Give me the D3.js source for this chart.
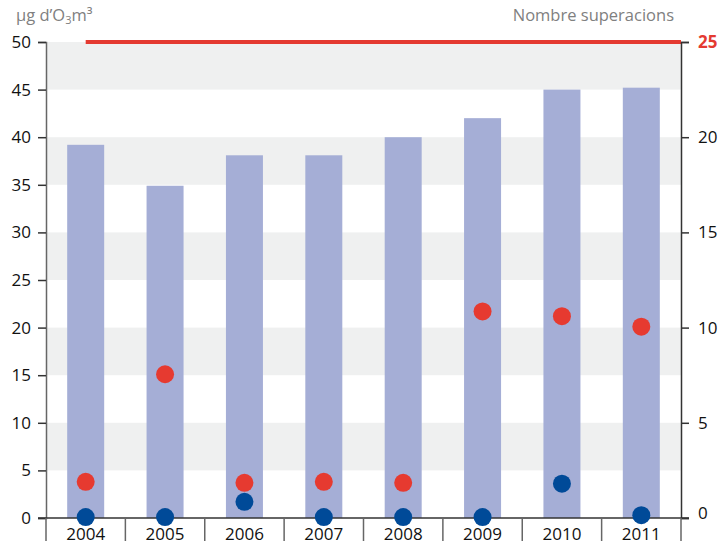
<!DOCTYPE html>
<html>
<head>
<meta charset="utf-8">
<script src="https://cdn.jsdelivr.net/npm/d3@7"></script>
<style>
  body { margin: 0; background: #fff; }
  text { font-family: "Open Sans", sans-serif; }
</style>
</head>
<body>
<div id="chart"></div>
<script>
const years = ['2004', '2005', '2006', '2007', '2008', '2009', '2010', '2011'];
const barValues = [39.2, 34.9, 38.1, 38.1, 40.0, 42.0, 45.0, 45.2];
const redValues = [3.8, 15.1, 3.7, 3.8, 3.7, 21.7, 21.2, 20.1];
const blueValues = [0.1, 0.1, 1.7, 0.1, 0.1, 0.1, 3.6, 0.3];
const leftTicks = [0, 5, 10, 15, 20, 25, 30, 35, 40, 45, 50];
const rightTicks = [0, 5, 10, 15, 20, 25];
const threshold = 25;

const width = 727, height = 544;
const plotLeft = 46, plotRight = 681, plotTop = 42, plotBottom = 518;
const fontSize = 17;

const svg = d3.select('#chart').append('svg')
  .attr('width', width)
  .attr('height', height);

const x = d3.scaleBand().domain(years).range([plotLeft, plotRight]).paddingInner(0).paddingOuter(0);
const y = d3.scaleLinear().domain([0, 50]).range([plotBottom, plotTop]);
const y2 = d3.scaleLinear().domain([0, 25]).range([plotBottom, plotTop]);

// alternating bands
const bands = d3.range(5, 50, 10);
svg.selectAll('.band')
  .data(bands)
  .enter().append('rect')
  .attr('x', plotLeft)
  .attr('width', plotRight - plotLeft)
  .attr('y', d => y(d + 5))
  .attr('height', d => y(d) - y(d + 5))
  .attr('fill', '#eff0f0');

// bars
const barW = 37;
svg.selectAll('.bar')
  .data(barValues)
  .enter().append('rect')
  .attr('x', (d, i) => x(years[i]) + x.bandwidth() / 2 - barW / 2)
  .attr('width', barW)
  .attr('y', d => y(d))
  .attr('height', d => y(0) - y(d))
  .attr('fill', '#a5aed6');

// threshold line
svg.append('line')
  .attr('x1', x(years[0]) + x.bandwidth() / 2)
  .attr('x2', plotRight)
  .attr('y1', y2(threshold))
  .attr('y2', y2(threshold))
  .attr('stroke', '#e43a31')
  .attr('stroke-width', 4);

// left axis
const leftAxis = svg.append('g')
  .attr('transform', `translate(${plotLeft},0)`)
  .call(d3.axisLeft(y).tickValues(leftTicks).tickSize(8).tickPadding(7));
leftAxis.select('.domain').attr('stroke', '#666').attr('stroke-width', 1.5);
leftAxis.selectAll('.tick line').attr('stroke', '#333').attr('stroke-width', 1.5);
leftAxis.selectAll('text').attr('font-size', fontSize).attr('fill', '#111').attr('font-family', '"Open Sans", sans-serif');

// right axis
const rightAxis = svg.append('g')
  .attr('transform', `translate(${plotRight},0)`)
  .call(d3.axisRight(y2).tickValues(rightTicks).tickSize(8).tickPadding(9));
rightAxis.select('.domain').attr('stroke', '#333').attr('stroke-width', 1.5);
rightAxis.selectAll('.tick line').attr('stroke', '#333').attr('stroke-width', 1.5);
rightAxis.selectAll('text').attr('font-size', fontSize).attr('fill', '#111').attr('font-family', '"Open Sans", sans-serif');
rightAxis.selectAll('text').filter(d => d === threshold)
  .attr('fill', '#e43a31').attr('font-weight', 'bold');
rightAxis.selectAll('text').filter(d => d === 0).attr('y', -5);

// bottom axis: separators at category boundaries
svg.append('line')
  .attr('x1', plotLeft - 8).attr('x2', plotRight + 8)
  .attr('y1', plotBottom).attr('y2', plotBottom)
  .attr('stroke', '#333').attr('stroke-width', 1.5);
const bounds = years.map(d => x(d)).concat([plotRight]);
svg.selectAll('.sep')
  .data(bounds)
  .enter().append('line')
  .attr('x1', d => d).attr('x2', d => d)
  .attr('y1', plotBottom).attr('y2', 541)
  .attr('stroke', '#666').attr('stroke-width', 1.5);
svg.selectAll('.xlabel')
  .data(years)
  .enter().append('text')
  .attr('x', d => x(d) + x.bandwidth() / 2)
  .attr('y', 540)
  .attr('text-anchor', 'middle')
  .attr('font-size', fontSize)
  .attr('fill', '#111')
  .text(d => d);

// dots
const r = 9;
svg.selectAll('.red')
  .data(redValues)
  .enter().append('circle')
  .attr('cx', (d, i) => x(years[i]) + x.bandwidth() / 2)
  .attr('cy', d => y(d))
  .attr('r', r)
  .attr('fill', '#e63a30');
svg.selectAll('.blue')
  .data(blueValues)
  .enter().append('circle')
  .attr('cx', (d, i) => x(years[i]) + x.bandwidth() / 2)
  .attr('cy', d => y(d))
  .attr('r', r)
  .attr('fill', '#004a98');

// titles
const units = svg.append('text')
  .attr('x', 16).attr('y', 21)
  .attr('font-size', 16.5)
  .attr('fill', '#808080');
units.append('tspan').text('µg d’O');
units.append('tspan').attr('font-size', 11).attr('dy', 3).text('3');
units.append('tspan').attr('dy', -3).text('m³');

svg.append('text')
  .attr('x', 674).attr('y', 21)
  .attr('text-anchor', 'end')
  .attr('font-size', 16.5)
  .attr('fill', '#808080')
  .text('Nombre superacions');
</script>
</body>
</html>
